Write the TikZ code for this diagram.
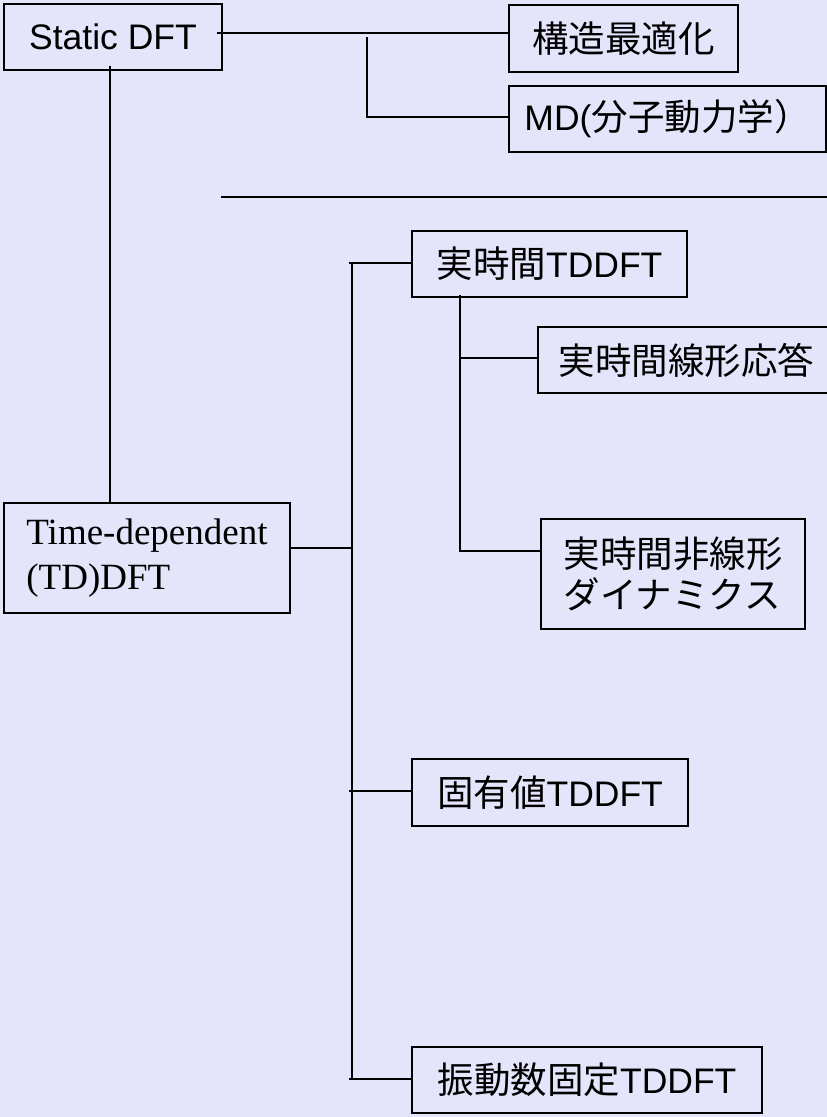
\documentclass[tikz,border=0pt]{standalone}
\usepackage{fontspec}
\setmainfont{Liberation Sans}
\newfontfamily\jpfont{Noto Sans CJK JP}
\newfontfamily\tmsfont{Liberation Serif}
\newcommand{\jtxt}[1]{{\jpfont\fontsize{36.5}{41}\selectfont #1}}
\definecolor{bg}{RGB}{228,228,251}
\tikzset{
  box/.style={draw=black, line width=1.8pt, fill=bg, inner sep=0pt, align=center,
    font=\fontsize{35.5}{41}\selectfont},
  conn/.style={draw=black, line width=1.8pt}
}
\begin{document}
\begin{tikzpicture}[x=1pt,y=-1pt]
\useasboundingbox (0,0) rectangle (827,1117);
\clip (0,0) rectangle (827,1117);
\fill[bg] (0,0) rectangle (827,1117);

% nodes
\node[box, minimum width=218pt, minimum height=66pt] (sdft) at (113,37) {Static DFT};
\node[box, minimum width=229pt, minimum height=67pt] (opt) at (623.5,38.5) {\jtxt{構造最適化}};
\node[box, minimum width=317pt, minimum height=66pt] (md) at (667.5,119) {MD(\jtxt{分子動力学）}};
\node[box, minimum width=286pt, minimum height=110pt, align=left,
  font=\tmsfont\fontsize{37}{45}\selectfont] (td) at (147,558) {Time-dependent\\(TD)DFT};
\node[box, minimum width=275pt, minimum height=66pt] (rt) at (549.5,264) {\jtxt{実時間}TDDFT};
\node[box, minimum width=297pt, minimum height=66pt] (lin) at (686.5,360) {\jtxt{実時間線形応答}};
\node[box, minimum width=264pt, minimum height=110pt, align=left,
  font=\jpfont\fontsize{36.5}{41}\selectfont] (nl) at (673,574) {実時間非線形\\ダイナミクス};
\node[box, minimum width=276pt, minimum height=67pt] (eig) at (550,792.5) {\jtxt{固有値}TDDFT};
\node[box, minimum width=350pt, minimum height=66pt] (fix) at (587,1080) {\jtxt{振動数固定}TDDFT};

% Static DFT connectors
\coordinate (s1) at ([xshift=-6pt,yshift=4pt]sdft.east);
\draw[conn] (s1) -- (s1 -| opt.west);
\coordinate (b1) at (367,37);
\draw[conn] (b1) |- ([yshift=2pt]md.west);
\coordinate (s2) at ([xshift=-3pt,yshift=5pt]sdft.south);
\draw[conn] (s2) -- (s2 |- td.north);

% separator
\coordinate (sepL) at (221,197);
\coordinate (sepR) at (827,197);
\draw[conn] (sepL) -- (sepR);

% TD tree
\coordinate (trunkTop) at (352,263);
\coordinate (trunkBot) at (352,1079);
\draw[conn] (trunkTop) -- (trunkBot);
\draw[conn] ([yshift=10pt]td.east) -- ([yshift=10pt]td.east -| trunkTop);
\draw[conn] ([xshift=-3pt]trunkTop) -- (trunkTop -| rt.west);
\coordinate (e1) at (349,791);
\draw[conn] (e1) -- (e1 -| eig.west);
\coordinate (f1) at (349,1079);
\draw[conn] (f1) -- (f1 -| fix.west);

% real-time subtree
\coordinate (rtb) at (460,295);
\draw[conn] (rtb) |- ([yshift=2pt]lin.west);
\draw[conn] (rtb) |- ([yshift=23pt]nl.west);
\end{tikzpicture}
\end{document}
